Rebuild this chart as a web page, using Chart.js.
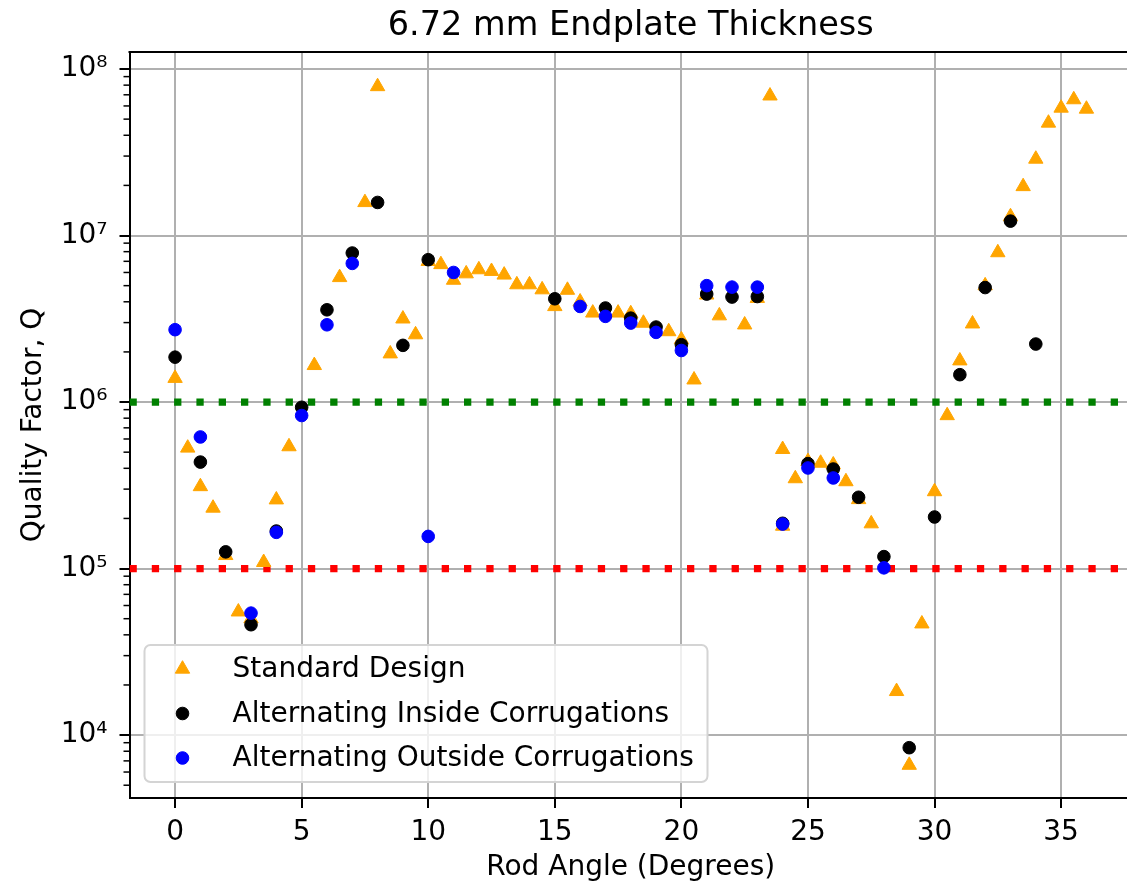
<!DOCTYPE html>
<html>
<head>
<meta charset="utf-8">
<script src="https://cdn.jsdelivr.net/npm/chart.js@4.4.1/dist/chart.umd.min.js"></script>
<style>
html, body { margin: 0; padding: 0; background: #fff; overflow: hidden; }
#wrap { width: 1132px; height: 886px; }
</style>
</head>
<body>
<div id="wrap"><canvas id="chart" width="1132" height="886"></canvas></div>
<script>
// rod angle (degrees) vs quality factor Q
var stdAngle = [0, 0.5, 1, 1.5, 2, 2.5, 3, 3.5, 4, 4.5,
  5.5, 6.5, 7.5, 8, 8.5, 9, 9.5, 10, 10.5, 11,
  11.5, 12, 12.5, 13, 13.5, 14, 14.5, 15, 15.5, 16,
  16.5, 17.5, 18, 18.5, 19.5, 20, 20.5, 21, 21.5, 22.5,
  23, 23.5, 24, 24, 24.5, 25, 25.5, 26, 26.5, 27,
  27.5, 28.5, 29, 29.5, 30, 30.5, 31, 31.5, 32, 32.5,
  33, 33.5, 34, 34.5, 35, 35.5, 36];
var stdQ = [1.39e6, 5.3e5, 3.11e5, 2.31e5, 1.2e5, 5.5e4, 5.0e4, 1.09e5, 2.59e5, 5.4e5,
  1.66e6, 5.6e6, 1.58e7, 7.85e7, 1.95e6, 3.16e6, 2.54e6, 7.0e6, 6.7e6, 5.4e6,
  5.9e6, 6.24e6, 6.1e6, 5.8e6, 5.07e6, 5.07e6, 4.73e6, 3.75e6, 4.7e6, 4.0e6,
  3.43e6, 3.43e6, 3.4e6, 2.98e6, 2.65e6, 2.37e6, 1.36e6, 4.4e6, 3.3e6, 2.91e6,
  4.2e6, 6.9e7, 5.2e5, 1.8e5, 3.47e5, 4.4e5, 4.3e5, 4.2e5, 3.33e5, 2.6e5,
  1.86e5, 1.83e4, 6.6e3, 4.66e4, 2.9e5, 8.3e5, 1.77e6, 2.95e6, 5.0e6, 7.9e6,
  1.3e7, 1.97e7, 2.88e7, 4.74e7, 5.83e7, 6.55e7, 5.75e7];

var insideAngle = [0, 1, 2, 3, 4, 5, 6, 7, 8, 9, 10, 15, 17, 18, 19,
  20, 21, 22, 23, 24, 25, 26, 27, 28, 29, 30, 31, 32, 33, 34];
var insideQ = [1.86e6, 4.36e5, 1.26e5, 4.6e4, 1.68e5, 9.3e5, 3.58e6, 7.85e6, 1.58e7, 2.19e6, 7.16e6, 4.17e6, 3.67e6, 3.19e6, 2.82e6,
  2.21e6, 4.45e6, 4.27e6, 4.3e6, 1.87e5, 4.27e5, 3.96e5, 2.68e5, 1.18e5, 8.4e3, 2.04e5, 1.46e6, 4.87e6, 1.22e7, 2.23e6];

var outsideAngle = [0, 1, 3, 4, 5, 6, 7, 10, 11, 16, 17, 18, 19, 20, 21, 22, 23, 24, 25, 26, 28];
var outsideQ = [2.72e6, 6.17e5, 5.4e4, 1.65e5, 8.3e5, 2.91e6, 6.8e6, 1.56e5, 6.0e6, 3.75e6, 3.27e6,
  2.98e6, 2.62e6, 2.04e6, 5.0e6, 4.9e6, 4.9e6, 1.85e5, 4.02e5, 3.5e5, 1.01e5];

var goodQ = 1e6;   // green dotted line
var lowQ = 1e5;    // red dotted line

var xTicks = [0, 5, 10, 15, 20, 25, 30, 35];
var yTicks = [1e4, 1e5, 1e6, 1e7, 1e8];
var xRange = [-1.8, 37.8];
var yRange = [4190, 1.265e8];

var FONT = "'DejaVu Sans', sans-serif";
Chart.defaults.font.family = FONT;
Chart.defaults.color = '#000';

function pts(xs, ys) {
  var out = [];
  for (var i = 0; i < xs.length; i++) out.push({ x: xs[i], y: ys[i] });
  return out;
}
function hline(q) {
  return [{ x: xRange[0], y: q }, { x: xRange[1], y: q }];
}

var sup = { '4': '\u2074', '5': '\u2075', '6': '\u2076', '7': '\u2077', '8': '\u2078' };

// minor log ticks, top spine and the boxed legend
var extras = {
  id: 'extras',
  afterDatasetsDraw: function(chart) {
    var ctx = chart.ctx, area = chart.chartArea, ys = chart.scales.y;
    ctx.save();
    // top spine
    ctx.strokeStyle = '#000';
    ctx.lineWidth = 2;
    ctx.beginPath();
    ctx.moveTo(area.left - 1, area.top);
    ctx.lineTo(area.right, area.top);
    ctx.stroke();
    // minor ticks
    ctx.lineWidth = 1.5;
    for (var e = 3; e <= 8; e++) {
      for (var m = 2; m <= 9; m++) {
        var v = m * Math.pow(10, e);
        if (v < ys.min || v > ys.max) continue;
        var py = ys.getPixelForValue(v);
        ctx.beginPath();
        ctx.moveTo(area.left - 6, py);
        ctx.lineTo(area.left, py);
        ctx.stroke();
      }
    }
    // legend
    var bx = area.left + 15, bw = 563, bh = 137, by = area.bottom - 16 - bh;
    ctx.beginPath();
    ctx.roundRect(bx, by, bw, bh, 6);
    ctx.fillStyle = 'rgba(255,255,255,0.8)';
    ctx.fill();
    ctx.strokeStyle = '#d4d4d4';
    ctx.lineWidth = 2;
    ctx.stroke();
    var rows = chart.data.datasets.filter(function(d) { return d.inLegend; });
    ctx.font = '28px ' + FONT;
    ctx.textBaseline = 'middle';
    ctx.textAlign = 'left';
    rows.forEach(function(ds, i) {
      var cy = by + 24 + i * 44.5;
      ctx.fillStyle = ds.backgroundColor;
      ctx.strokeStyle = ds.borderColor;
      ctx.lineWidth = 1;
      Chart.helpers.drawPoint(ctx, { pointStyle: ds.pointStyle, radius: ds.pointRadius, rotation: 0, borderWidth: 1 }, bx + 38, cy);
      ctx.fillStyle = '#000';
      ctx.fillText(ds.label, bx + 88, cy + 1);
    });
    ctx.restore();
  }
};

new Chart(document.getElementById('chart'), {
  type: 'scatter',
  data: {
    datasets: [
      {
        label: 'Standard Design', inLegend: true, order: 3,
        data: pts(stdAngle, stdQ),
        pointStyle: 'triangle', pointRadius: 8.3, borderWidth: 1,
        backgroundColor: '#ffa500', borderColor: '#ffa500'
      },
      {
        label: 'Alternating Inside Corrugations', inLegend: true, order: 2,
        data: pts(insideAngle, insideQ),
        pointStyle: 'circle', pointRadius: 6.3, borderWidth: 1,
        backgroundColor: '#000000', borderColor: '#000000'
      },
      {
        label: 'Alternating Outside Corrugations', inLegend: true, order: 1,
        data: pts(outsideAngle, outsideQ),
        pointStyle: 'circle', pointRadius: 6.3, borderWidth: 1,
        backgroundColor: '#0000ff', borderColor: '#0000ff'
      },
      {
        type: 'line', label: 'Q = 1e6', order: 4,
        data: hline(goodQ),
        borderColor: '#008000', borderWidth: 7.3, borderDash: [7.3, 15],
        borderCapStyle: 'butt', pointRadius: 0, fill: false
      },
      {
        type: 'line', label: 'Q = 1e5', order: 4,
        data: hline(lowQ),
        borderColor: '#ff0000', borderWidth: 7.3, borderDash: [7.3, 15],
        borderCapStyle: 'butt', pointRadius: 0, fill: false
      }
    ]
  },
  options: {
    responsive: false,
    animation: false,
    devicePixelRatio: 1,
    events: [],
    layout: { padding: 0, autoPadding: false },
    plugins: {
      legend: { display: false },
      tooltip: { enabled: false },
      title: {
        display: true,
        fullSize: false,
        text: '6.72 mm Endplate Thickness',
        font: { size: 33.5, weight: 'normal', lineHeight: 1.2 },
        color: '#000',
        padding: { top: 6, bottom: 5.8 }
      }
    },
    scales: {
      x: {
        type: 'linear',
        min: xRange[0], max: xRange[1],
        afterBuildTicks: function(s) { s.ticks = xTicks.map(function(v) { return { value: v }; }); },
        afterFit: function(s) { s.height = 88; },
        ticks: { font: { size: 28 }, padding: 8, maxRotation: 0, autoSkip: false, color: '#000' },
        grid: { color: '#b0b0b0', lineWidth: 2, tickLength: 10, tickColor: '#000', tickWidth: 2 },
        border: { display: true, color: '#000', width: 2 },
        title: { display: true, text: 'Rod Angle (Degrees)', font: { size: 28 }, color: '#000', padding: { top: 0, bottom: 1.5 } }
      },
      y: {
        type: 'logarithmic',
        min: yRange[0], max: yRange[1],
        afterBuildTicks: function(s) { s.ticks = yTicks.map(function(v) { return { value: v }; }); },
        afterFit: function(s) { s.width = 129.5; },
        ticks: {
          font: { size: 28 }, padding: 12, autoSkip: false, color: '#000',
          callback: function(v) { return '10' + sup[String(Math.round(Math.log10(v)))]; }
        },
        grid: { color: '#b0b0b0', lineWidth: 2, tickLength: 10, tickColor: '#000', tickWidth: 2 },
        border: { display: true, color: '#000', width: 2 },
        title: { display: true, text: 'Quality Factor, Q', font: { size: 28 }, color: '#000', padding: { top: 17, bottom: 0 } }
      }
    }
  },
  plugins: [extras]
});
</script>
</body>
</html>
